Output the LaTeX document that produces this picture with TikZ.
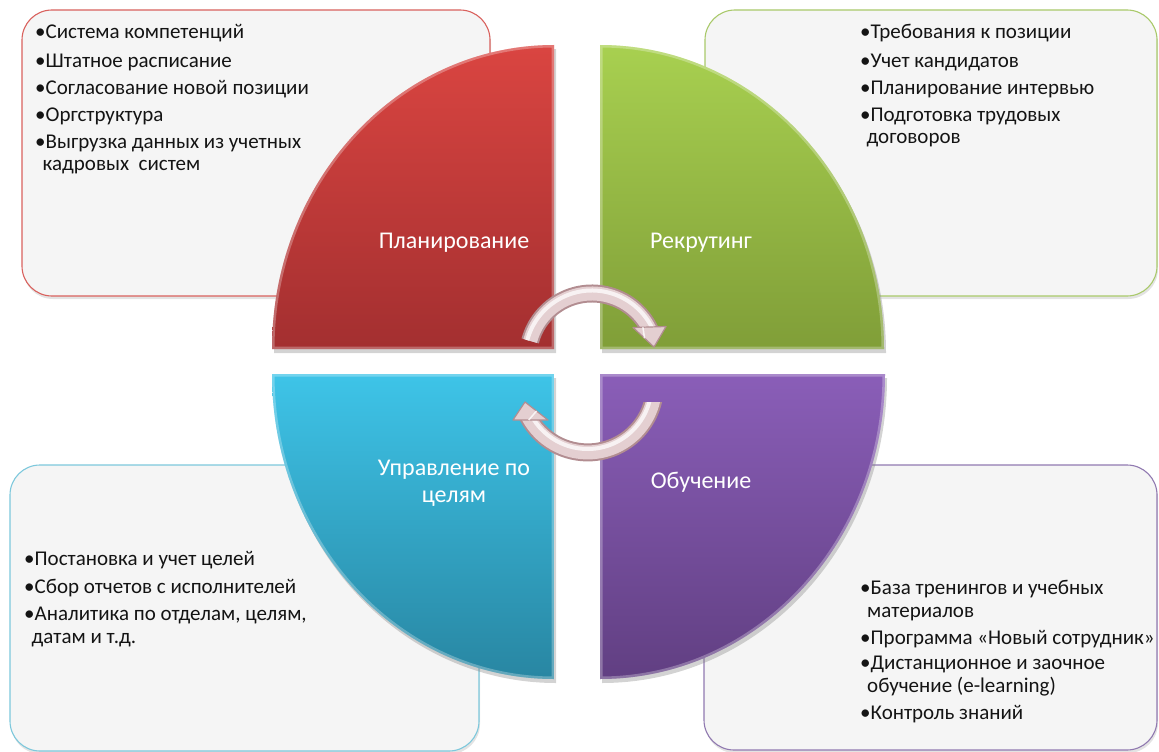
\documentclass[tikz,border=0pt]{standalone}
\usepackage{fontspec}
\setmainfont{Carlito}
\usetikzlibrary{shadows,calc}
\definecolor{redT}{HTML}{DA4541}
\definecolor{redB}{HTML}{A32F30}
\definecolor{grnT}{HTML}{A8D050}
\definecolor{grnB}{HTML}{809E38}
\definecolor{cyaT}{HTML}{3EC4E8}
\definecolor{cyaB}{HTML}{2886A2}
\definecolor{purT}{HTML}{8A5EB8}
\definecolor{purB}{HTML}{613F82}
\definecolor{redL}{HTML}{D9615D}
\definecolor{grnL}{HTML}{A9C96A}
\definecolor{cyaL}{HTML}{7DC8DC}
\definecolor{purL}{HTML}{9079B0}
\definecolor{boxfill}{HTML}{F5F5F5}
\definecolor{txt}{HTML}{141414}
\definecolor{arEdge}{HTML}{B28D91}
\definecolor{arBody}{HTML}{E4CFD1}
\newcommand{\qRed}{(554,349) -- (272,349) arc[start angle=180, end angle=270, x radius=282, y radius=304] -- cycle}
\newcommand{\qGrn}{(600,349) -- (600,45) arc[start angle=270, end angle=360, x radius=284, y radius=304] -- cycle}
\newcommand{\qCya}{(554,374) -- (272,374) arc[start angle=180, end angle=90, x radius=282, y radius=305] -- cycle}
\newcommand{\qPur}{(600,374) -- (885,374) arc[start angle=0, end angle=90, x radius=285, y radius=305] -- cycle}
\begin{document}
\begin{tikzpicture}[x=1pt,y=-1pt,
  box/.style={rounded corners=30pt, fill=boxfill, line width=1.1pt,
    drop shadow={shadow xshift=1pt, shadow yshift=-3pt, opacity=0.22}},
  quad/.style={drop shadow={shadow xshift=2pt, shadow yshift=-4pt, opacity=0.35}},
  rim/.style={line width=5pt, white, opacity=0.28},
  item/.style={anchor=base west, inner sep=0pt, font=\fontsize{21}{23}\selectfont, text=txt},
  lab/.style={anchor=base, inner sep=0pt, font=\fontsize{24}{27}\selectfont, text=white},
  shaftE/.style={line width=18pt, arEdge},
  shaftB/.style={line width=14pt, arBody},
  shaftH/.style={line width=4pt, white, opacity=0.75},
  headS/.style={fill=arBody, draw=arEdge, line width=1.2pt, line join=round},
]
\useasboundingbox (0,0) rectangle (1159,752);
% text boxes
\draw[box, draw=redL] (22,10) rectangle (490,296);
\draw[box, draw=grnL] (705,10) rectangle (1157,296);
\draw[box, draw=cyaL] (10,465) rectangle (479,751);
\draw[box, draw=purL] (704,465) rectangle (1157,750);
% quadrants
\path[quad, top color=redT, bottom color=redB] \qRed;
\path[quad, top color=grnT, bottom color=grnB] \qGrn;
\path[quad, top color=cyaT, bottom color=cyaB] \qCya;
\path[quad, top color=purT, bottom color=purB] \qPur;
\begin{scope}\clip \qRed; \draw[rim] \qRed; \end{scope}
\begin{scope}\clip \qGrn; \draw[rim] \qGrn; \end{scope}
\begin{scope}\clip \qCya; \draw[rim] \qCya; \end{scope}
\begin{scope}\clip \qPur; \draw[rim] \qPur; \end{scope}
% quadrant labels
\node[lab] (lPlan) at (454,248) {Планирование};
\node[lab] (lRec) at (701,248) {Рекрутинг};
\node[lab] (lMbo1) at (454,475) {Управление по};
\node[lab] (lMbo2) at (454,502) {целям};
\node[lab] (lEdu) at (701,488) {Обучение};
% top circular arrow
\coordinate (cA) at (592,357.5);
\begin{scope}
  \clip (480,347) -- (480,260) -- (700,260) -- (700,327) -- (580,327) -- (580,347) -- cycle;
  \draw[shaftE] ([shift={(195:64)}]cA) arc[start angle=195, end angle=340, radius=64];
  \draw[shaftB] ([shift={(195:64)}]cA) arc[start angle=195, end angle=340, radius=64];
  \draw[shaftH] ([shift={(195:67)}]cA) arc[start angle=195, end angle=340, radius=67];
\end{scope}
\coordinate (hA1) at (633,327.5);
\coordinate (hA2) at (666,326.5);
\coordinate (hAt) at (654,347);
\draw[headS] (hA1) -- (hA2) -- (hAt) -- cycle;
\draw[white, line width=1.5pt, opacity=0.8] ($(hA1)!0.3!(hA2)$) -- ($(hA1)!0.55!(hAt)$);
% bottom circular arrow
\coordinate (cB) at (587.6,385);
\begin{scope}
  \clip (480,420) -- (480,480) -- (700,480) -- (700,402) -- (580,402) -- (580,420) -- cycle;
  \draw[shaftE] ([shift={(5:67.4)}]cB) arc[start angle=5, end angle=160, radius=67.4];
  \draw[shaftB] ([shift={(5:67.4)}]cB) arc[start angle=5, end angle=160, radius=67.4];
  \draw[shaftH] ([shift={(5:64)}]cB) arc[start angle=5, end angle=160, radius=64];
\end{scope}
\coordinate (hB1) at (513,420);
\coordinate (hB2) at (548,420);
\coordinate (hBt) at (525,402);
\draw[headS] (hB1) -- (hB2) -- (hBt) -- cycle;
\draw[white, line width=1.5pt, opacity=0.8] ($(hB1)!0.45!(hB2)$) -- ($(hB2)!0.5!(hBt)$);
% box texts: top-left
\node[item] (tl1) at (35,39) {•Система компетенций};
\node[item] (tl2) at (35,67) {•Штатное расписание};
\node[item] (tl3) at (35,94) {•Согласование новой позиции};
\node[item] (tl4) at (35,121) {•Оргструктура};
\node[item] (tl5) at (35,148) {•Выгрузка данных из учетных};
\node[item] (tl6) at (42.5,170) {кадровых\ \ систем};
% top-right
\node[item] (tr1) at (860,39) {•Требования к позиции};
\node[item] (tr2) at (860,67) {•Учет кандидатов};
\node[item] (tr3) at (860,94) {•Планирование интервью};
\node[item] (tr4) at (860,121) {•Подготовка трудовых};
\node[item] (tr5) at (866.5,143) {договоров};
% bottom-left
\node[item] (bl1) at (24,565) {•Постановка и учет целей};
\node[item] (bl2) at (24,593) {•Сбор отчетов с исполнителей};
\node[item] (bl3) at (24,620) {•Аналитика по отделам, целям,};
\node[item] (bl4) at (31.5,643) {датам и т.д.};
% bottom-right
\node[item] (br1) at (860,594) {•База тренингов и учебных};
\node[item] (br2) at (867,617) {материалов};
\node[item] (br3) at (860,644) {•Программа «Новый сотрудник»};
\node[item] (br4) at (860,669) {•Дистанционное и заочное};
\node[item] (br5) at (867,692) {обучение (e-learning)};
\node[item] (br6) at (860,719) {•Контроль знаний};
\end{tikzpicture}
\end{document}
